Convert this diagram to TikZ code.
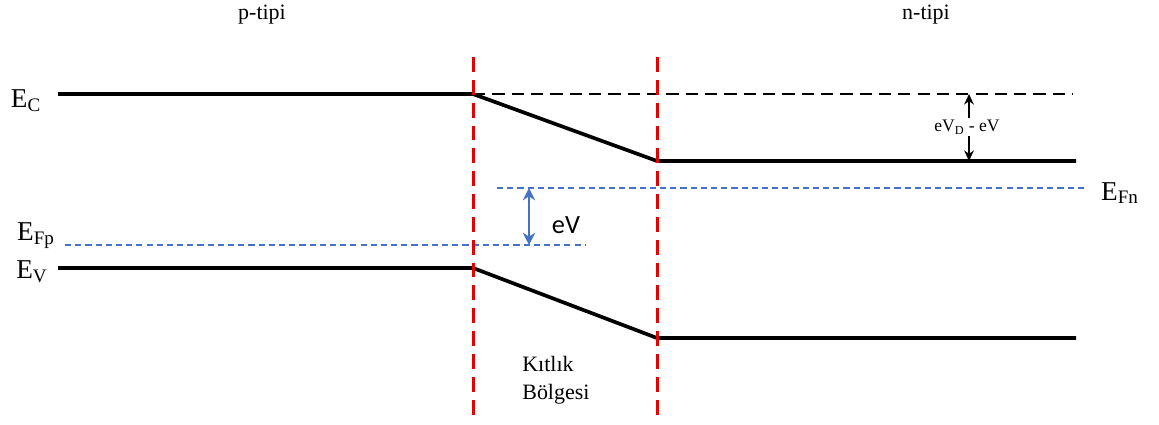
\documentclass[tikz,border=0pt]{standalone}
\usepackage{fontspec}
\setmainfont{Liberation Serif}
\newfontfamily\labelsans{Carlito}
\usetikzlibrary{arrows.meta,calc,positioning}
\definecolor{fermiblue}{RGB}{68,114,196}

\begin{document}
\begin{tikzpicture}[x=0.02cm,y=-0.02cm,>=Stealth,
  band/.style={line width=2.1pt,black},
  junction/.style={red!90!black,line width=1.7pt,dash pattern=on 8.5pt off 4.5pt},
  fermi/.style={fermiblue,line width=0.7pt,dash pattern=on 3.5pt off 2.3pt},
  level/.style={font=\fontsize{15.5}{17}\selectfont,inner sep=1pt},
  region/.style={font=\fontsize{12.5}{14}\selectfont}]
  \useasboundingbox (0,0) rectangle (1159,425);
  % key points of the bands
  \coordinate (cl) at (58,94);    \coordinate (cp) at (473,94);
  \coordinate (cn) at (657,161);  \coordinate (cr) at (1076,161);
  \coordinate (ce) at (1073,94);
  \coordinate (vl) at (58,268);   \coordinate (vp) at (473,268);
  \coordinate (vn) at (657,338);  \coordinate (vr) at (1076,338);
  % depletion edges
  \coordinate (jp1) at (473,57);  \coordinate (jp2) at (473,421);
  \coordinate (jn1) at (657,57);  \coordinate (jn2) at (657,421);
  % Fermi levels
  \coordinate (fpl) at (65,245);  \coordinate (fpr) at (585,245);
  \coordinate (fnl) at (497,188); \coordinate (fnr) at (1088,188);
  \coordinate (evt) at (529,188); \coordinate (evb) at (529,245);
  \coordinate (dvt) at (969,94);  \coordinate (dvb) at (969,161);

  \draw[black,line width=0.7pt,dash pattern=on 7pt off 4pt] (cp) -- (ce);
  \draw[fermi] (fpl) -- (fpr);
  \draw[fermi] (fnl) -- (fnr);
  \draw[band] (cl) -- (cp) -- (cn) -- (cr);
  \draw[band] (vl) -- (vp) -- (vn) -- (vr);
  \draw[junction] (jp1) -- (jp2);
  \draw[junction] (jn1) -- (jn2);

  \draw[fermiblue,line width=1.5pt,{Stealth[length=7pt,width=7pt]}-{Stealth[length=7pt,width=7pt]}]
    (evt) -- (evb);
  \node[font=\labelsans\fontsize{15}{17}\selectfont] (ev) at (566,225) {eV};
  \draw[line width=1.1pt,{Stealth[length=6pt,width=5.5pt]}-{Stealth[length=6pt,width=5.5pt]}] (dvt) -- (dvb);
  \node[fill=white,inner sep=1pt,font=\fontsize{10}{12}\selectfont] (dv) at (967,127)
    {eV\textsubscript{D} - eV};

  \node[level] (ec) at (26,101) {E\textsubscript{C}};
  \node[level] (efp) at (36,236) {E\textsubscript{Fp}};
  \node[level] (evl) at (32,272) {E\textsubscript{V}};
  \node[level] (efn) at (1120,193) {E\textsubscript{Fn}};
  \node[region] (pt) at (262,15) {p-tipi};
  \node[region] (nt) at (926,15) {n-tipi};
  \node[region,align=left,anchor=north west,inner sep=0pt] (kb) at (522,356)
    {Kıtlık\\[2pt]Bölgesi};
\end{tikzpicture}
\end{document}
